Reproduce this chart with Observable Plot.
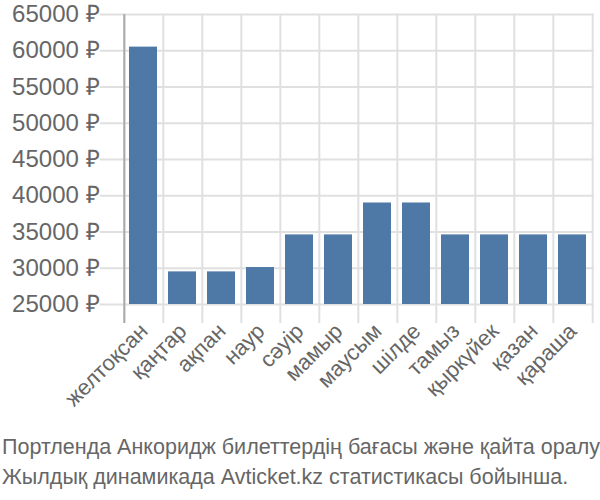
<!DOCTYPE html>
<html>
<head>
<meta charset="utf-8">
<script src="https://cdn.jsdelivr.net/npm/d3@7"></script>
<script src="https://cdn.jsdelivr.net/npm/@observablehq/plot@0.6"></script>
<style>
  body { margin: 0; background: #fff; }
  #chart svg { display: block; }
  #caption { font-family: "Liberation Sans", Arial, sans-serif; font-size: 21.5px; color: #666; line-height: 30px; margin-left: 2px; margin-top: 2px; white-space: nowrap; }
</style>
</head>
<body>
<div id="chart"></div>
<div id="caption"></div>
<script>
const months = ["желтоқсан", "қаңтар", "ақпан", "наур", "сәуір", "мамыр", "маусым", "шілде", "тамыз", "қыркүйек", "қазан", "қараша"];
const prices = [60500, 29500, 29500, 30100, 34600, 34600, 39000, 39000, 34600, 34600, 34600, 34600];
const yTicks = [25000, 30000, 35000, 40000, 45000, 50000, 55000, 60000, 65000];
const captionLines = ["Портленда Анкоридж билеттердің бағасы және қайта оралу", "Жылдық динамикада Avticket.kz статистикасы бойынша."];

const data = months.map((m, i) => ({month: m, price: prices[i]}));
const W = 600, H = 430, mL = 122, mR = 6, mT = 14, mB = 126;
const bw = (W - mL - mR) / months.length;

const chart = Plot.plot({
  width: W, height: H,
  marginLeft: mL, marginRight: mR, marginTop: mT, marginBottom: mB,
  style: {fontFamily: "Liberation Sans, Arial, sans-serif", color: "#666", background: "#fff"},
  x: {domain: months, padding: 0, label: null},
  y: {domain: [25000, 65000], label: null},
  marks: [
    Plot.ruleY(yTicks, {stroke: "#e0e0e0", strokeWidth: 2, insetLeft: -22}),
    Plot.ruleX(months, {x: d => d, dx: -bw / 2, stroke: "#e0e0e0", strokeWidth: 2, insetBottom: -19}),
    Plot.ruleX([months[months.length - 1]], {x: d => d, dx: bw / 2, stroke: "#e0e0e0", strokeWidth: 2, insetBottom: -19}),
    Plot.ruleX([months[0]], {x: d => d, dx: -bw / 2, stroke: "#aaa", strokeWidth: 2, insetBottom: -19}),
    Plot.barY(data, {x: "month", y1: 25000, y2: "price", fill: "#4e79a7", insetLeft: 5, insetRight: 6}),
    Plot.axisY(yTicks, {tickSize: 0, tickPadding: 23, fontSize: 24, fill: "#666", label: null, tickFormat: d => d + " ₽"}),
    Plot.axisX({tickSize: 0, tickRotate: -45, tickPadding: 23, fontSize: 22, fill: "#666", label: null})
  ]
});
document.getElementById("chart").appendChild(chart);
const cap = document.getElementById("caption");
captionLines.forEach(t => { const d = document.createElement("div"); d.textContent = t; cap.appendChild(d); });
</script>
</body>
</html>
